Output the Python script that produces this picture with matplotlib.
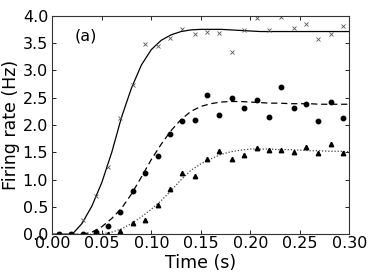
import matplotlib
matplotlib.use("Agg")
import matplotlib.pyplot as plt

# sample times of the measured points (s)
t_pts = [0.00625, 0.01875, 0.03125, 0.04375, 0.05625, 0.06875, 0.08125, 0.09375,
         0.10625, 0.11875, 0.13125, 0.14375, 0.15625, 0.16875, 0.18125, 0.19375,
         0.20625, 0.21875, 0.23125, 0.24375, 0.25625, 0.26875, 0.28125, 0.29375]
cross_pts = [0.0, 0.0, 0.26, 0.70, 1.24, 2.12, 2.74, 3.49, 3.45, 3.59, 3.75, 3.67,
             3.71, 3.68, 3.33, 3.73, 3.95, 3.74, 3.97, 3.77, 3.84, 3.57, 3.66, 3.82]
circle_pts = [0.0, 0.0, 0.0, 0.04, 0.15, 0.41, 0.80, 1.12, 1.43, 1.84, 2.07, 2.09,
              2.55, 2.18, 2.49, 2.32, 2.46, 2.15, 2.69, 2.31, 2.38, 2.07, 2.42, 2.13]
tri_pts = [0.0, 0.0, 0.0, 0.0, 0.0, 0.06, 0.20, 0.27, 0.54, 0.83, 1.13, 1.06,
           1.37, 1.52, 1.38, 1.45, 1.58, 1.54, 1.54, 1.51, 1.60, 1.49, 1.65, 1.49]

# fitted curves, every 0.01 s
t_fit = [0.00, 0.01, 0.02, 0.03, 0.04, 0.05, 0.06, 0.07, 0.08, 0.09, 0.10,
         0.11, 0.12, 0.13, 0.14, 0.15, 0.16, 0.17, 0.18, 0.19, 0.20,
         0.21, 0.22, 0.23, 0.24, 0.25, 0.26, 0.27, 0.28, 0.29, 0.30]
fit_solid = [0.0, 0.0, 0.0, 0.20, 0.52, 0.95, 1.50, 2.15, 2.68, 3.10, 3.38,
             3.55, 3.65, 3.71, 3.74, 3.75, 3.75, 3.75, 3.74, 3.73, 3.72,
             3.71, 3.71, 3.71, 3.71, 3.71, 3.71, 3.71, 3.71, 3.71, 3.71]
fit_dashed = [0.0, 0.0, 0.0, 0.0, 0.04, 0.14, 0.29, 0.48, 0.74, 1.05, 1.37,
              1.65, 1.90, 2.10, 2.25, 2.34, 2.39, 2.42, 2.43, 2.43, 2.42,
              2.41, 2.40, 2.40, 2.39, 2.39, 2.39, 2.38, 2.38, 2.38, 2.38]
fit_dotted = [0.0, 0.0, 0.0, 0.0, 0.0, 0.01, 0.04, 0.10, 0.20, 0.32, 0.46,
              0.62, 0.80, 1.00, 1.17, 1.29, 1.38, 1.46, 1.51, 1.54, 1.56,
              1.56, 1.56, 1.55, 1.55, 1.54, 1.53, 1.53, 1.52, 1.52, 1.51]

x_ticks = [0.00, 0.05, 0.10, 0.15, 0.20, 0.25, 0.30]
y_ticks = [0.0, 0.5, 1.0, 1.5, 2.0, 2.5, 3.0, 3.5, 4.0]

plt.rcParams["font.family"] = ["DejaVu Sans"]
fig = plt.figure(figsize=(3.74, 2.80), dpi=100)
ax = fig.add_axes([0.140, 0.163, 0.794, 0.781])

ax.plot(t_fit, fit_solid, color="black", lw=0.9, ls="-")
ax.plot(t_fit, fit_dashed, color="black", lw=0.9, ls=(0, (5, 3)))
ax.plot(t_fit, fit_dotted, color="#444444", lw=0.9, ls=(0, (1, 1.5)))

ax.plot(t_pts, cross_pts, ls="none", marker="x", ms=3.2, mew=0.6, color="#555555")
ax.plot(t_pts, circle_pts, ls="none", marker="o", ms=3.2, color="black")
ax.plot(t_pts, tri_pts, ls="none", marker="^", ms=3.2, color="black")

ax.text(0.022, 3.62, "(a)", fontsize=11.5, va="center", ha="left")

ax.set_xlim(0, 0.30)
ax.set_ylim(0, 4.0)
ax.set_xticks(x_ticks)
ax.set_xticklabels([f"{v:.2f}" for v in x_ticks])
ax.set_yticks(y_ticks)
ax.set_yticklabels([f"{v:.1f}" for v in y_ticks])
ax.tick_params(direction="in", length=3, width=0.6, labelsize=11.5,
               top=True, right=True)
ax.tick_params(axis="x", pad=1.5)
ax.tick_params(axis="y", pad=3)
for s in ax.spines.values():
    s.set_linewidth(0.8)
    s.set_color("#333333")

ax.set_xlabel("Time (s)", fontsize=12.5, labelpad=2)
ax.set_ylabel("Firing rate (Hz)", fontsize=12.5, labelpad=2)

fig.savefig("out.png", dpi=100, facecolor="white")
